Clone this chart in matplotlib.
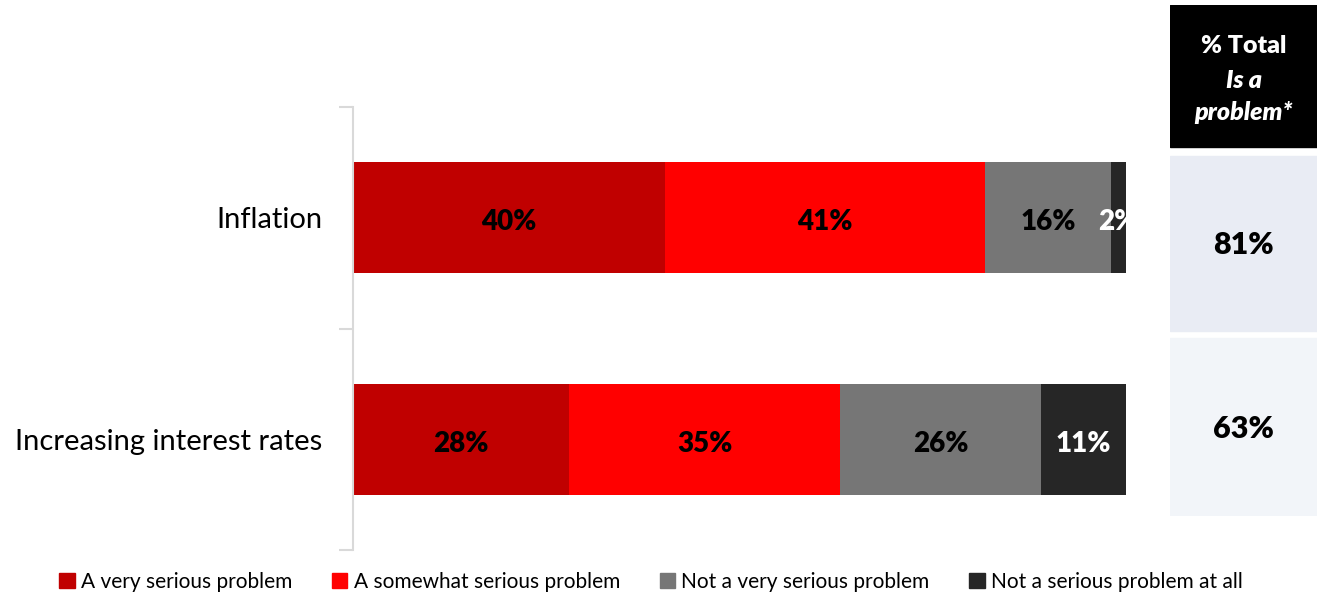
import matplotlib.pyplot as plt
from matplotlib.patches import Patch, Rectangle

# ── Data ─────────────────────────────────────
categories = ["Inflation", "Increasing interest rates"]
series_names = [
    "A very serious problem",
    "A somewhat serious problem",
    "Not a very serious problem",
    "Not a serious problem at all",
]
very_serious = [40.4, 28]
somewhat_serious = [41.4, 35]
not_very_serious = [16.2, 26]
not_at_all = [2.0, 11]
value_labels = [["40%", "41%", "16%", "2%"], ["28%", "35%", "26%", "11%"]]
total_problem = ["81%", "63%"]

colors = ["#c00000", "#ff0000", "#767676", "#262626"]
label_colors = ["black", "black", "black", "white"]

plt.rcParams["font.family"] = ["Lato", "DejaVu Sans"]

W, H = 1319, 595
fig = plt.figure(figsize=(W / 100, H / 100), dpi=100)


def box(x0, y0, x1, y1):
    # pixel box (top-left origin) -> figure fraction rect
    return [x0 / W, 1 - y1 / H, (x1 - x0) / W, (y1 - y0) / H]


# ── Main stacked bars ────────────────────────
ax = fig.add_axes(box(353, 107, 1126, 550))
series = [very_serious, somewhat_serious, not_very_serious, not_at_all]
ypos = list(range(len(categories)))
left = [0] * len(categories)
for i, vals in enumerate(series):
    bars = ax.barh(ypos, vals, left=left, height=0.5, color=colors[i],
                   label=series_names[i], linewidth=0)
    for j, b in enumerate(bars):
        ax.text(b.get_x() + b.get_width() / 2, b.get_y() + b.get_height() / 2 + 0.02,
                value_labels[j][i], ha="center", va="center",
                fontsize=20, fontweight="heavy", color=label_colors[i],
                clip_on=False)
    left = [l + v for l, v in zip(left, vals)]

ax.set_xlim(0, sum(s[1] for s in series))
ax.set_ylim(len(categories) - 0.5, -0.5)
ax.set_xticks([])
ax.set_yticks(ypos)
ax.set_yticklabels(categories, fontsize=21)
ax.tick_params(axis="y", length=0, pad=22)
ax.set_yticks([-0.5, 0.5, 1.5], minor=True)
ax.tick_params(axis="y", which="minor", length=10, color="#d9d9d9", width=1.5)
for s in ["top", "right", "bottom"]:
    ax.spines[s].set_visible(False)
ax.spines["left"].set_color("#d9d9d9")
ax.spines["left"].set_linewidth(1.5)

# ── Right-hand total table ───────────────────
tab = fig.add_axes(box(1170, 5, 1317, 516))
tab.set_xlim(1170, 1317)
tab.set_ylim(516, 5)
tab.axis("off")
tab.add_patch(Rectangle((1170, 5), 147, 142, color="black"))
tab.text(1243.5, 46, "% Total", ha="center", va="center", color="white",
         fontsize=18, fontweight="heavy")
tab.text(1243.5, 80, "Is a", ha="center", va="center", color="white",
         fontsize=18, fontweight="heavy", style="italic")
tab.text(1243.5, 113, "problem*", ha="center", va="center", color="white",
         fontsize=18, fontweight="heavy", style="italic")
cells = [(156, 331, "#e9ecf4"), (338, 516, "#f2f5f9")]
for (y0, y1, c), txt in zip(cells, total_problem):
    tab.add_patch(Rectangle((1170, y0), 147, y1 - y0, color=c))
    tab.text(1243.5, (y0 + y1) / 2 + 2, txt, ha="center", va="center",
             fontsize=22, fontweight="heavy", color="black")

# ── Legend ───────────────────────────────────
handles = [Patch(color=c, label=n) for c, n in zip(colors, series_names)]
fig.legend(handles=handles, loc="center", bbox_to_anchor=(651 / W, 1 - 582 / H),
           ncol=4, frameon=False, fontsize=15, handlelength=0.75,
           handleheight=0.75, handletextpad=0.3, columnspacing=1.9)

fig.savefig("out.png", dpi=100)
